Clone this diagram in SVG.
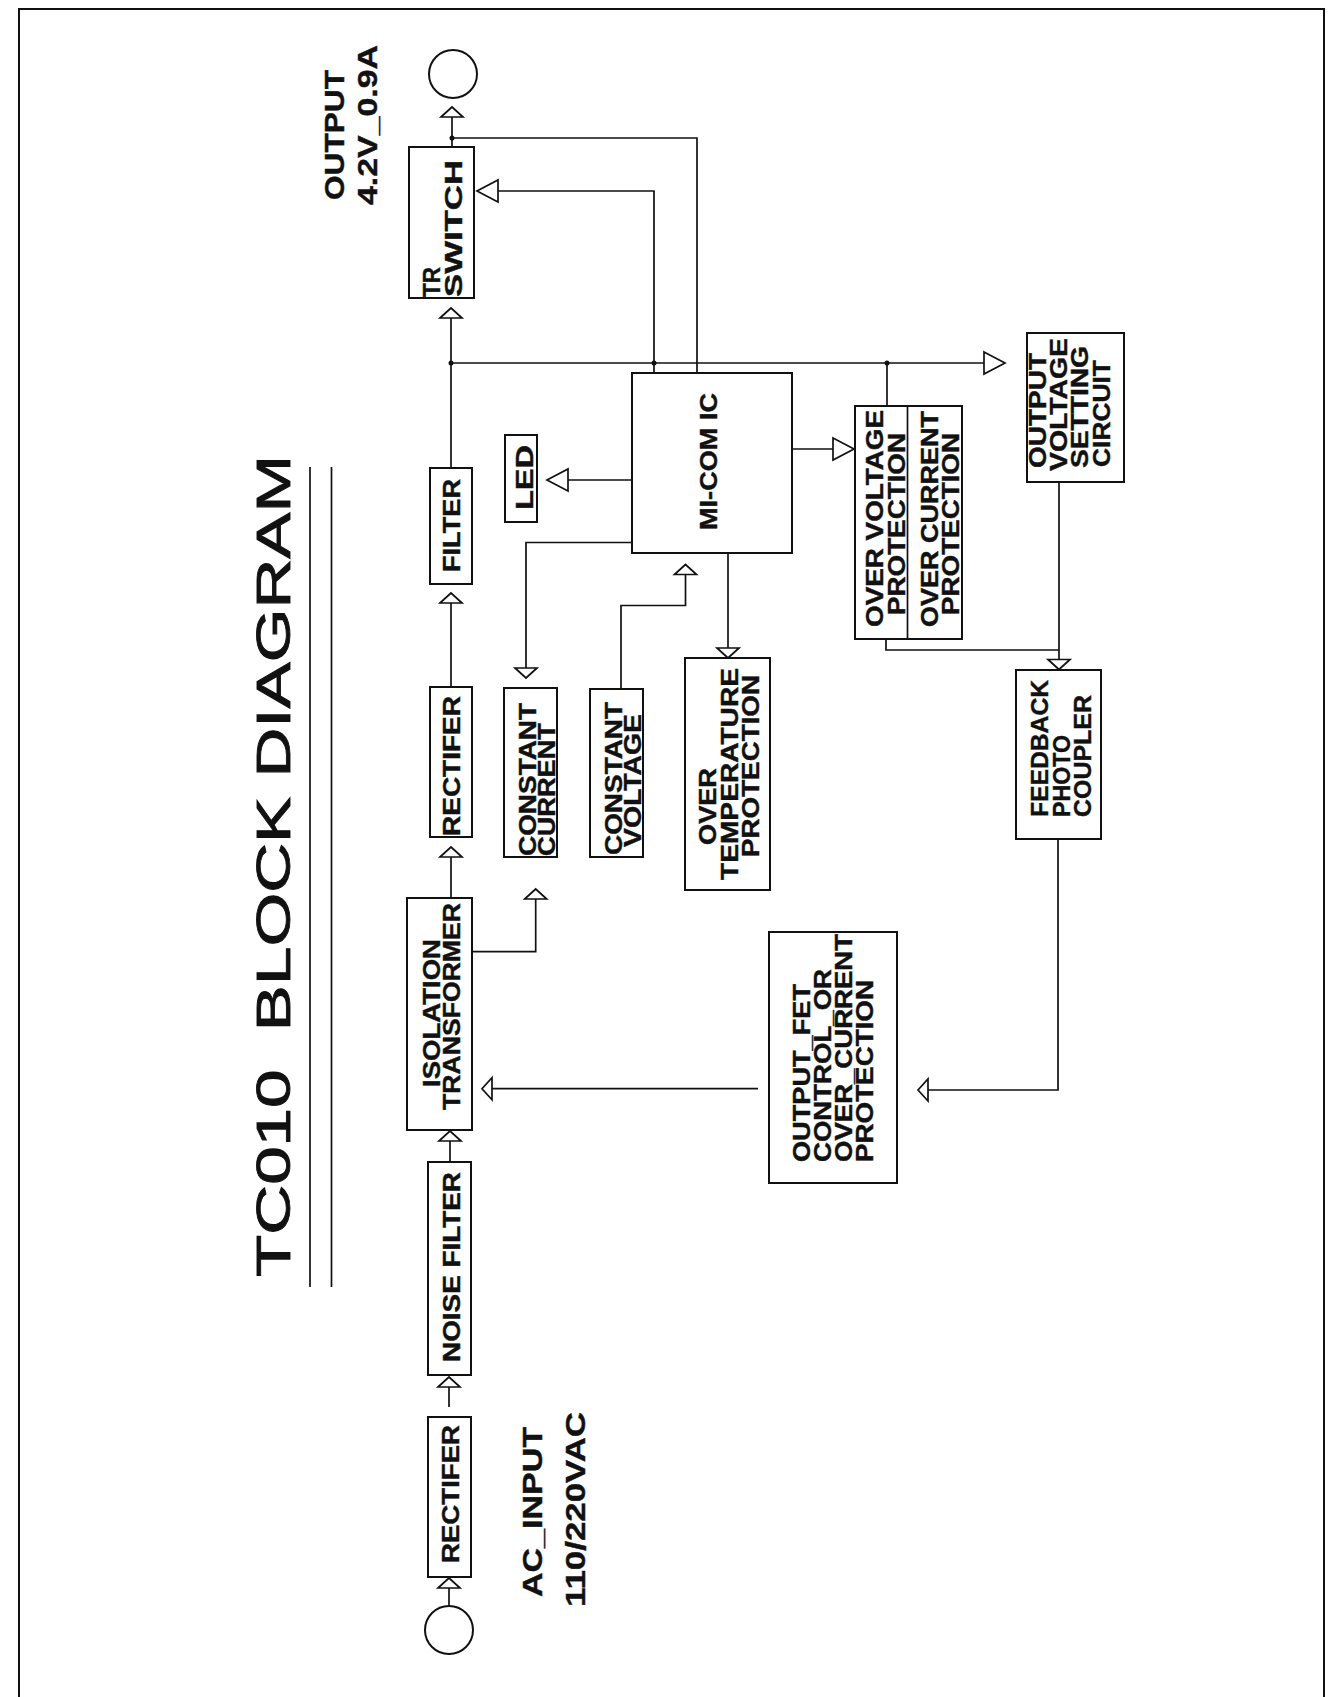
<svg xmlns="http://www.w3.org/2000/svg" width="1338" height="1697" viewBox="0 0 1338 1697">
<style>
.bx{fill:#fff;stroke:#111;stroke-width:2}
.ln{fill:none;stroke:#111;stroke-width:1.7}
.t{font-family:"Liberation Sans",Arial,sans-serif;font-weight:bold;font-size:23px;fill:#111;stroke:#111;stroke-width:0.4}
.ti{font-family:"Liberation Sans",Arial,sans-serif;font-size:48px;fill:#111;stroke:#111;stroke-width:0.9;white-space:pre}
.lb{font-family:"Liberation Sans",Arial,sans-serif;font-weight:bold;font-size:28px;fill:#111;stroke:#111;stroke-width:0.4}
.dot{fill:#111}
</style>
<defs>
<marker id="arS" viewBox="0 0 12 24" markerWidth="12" markerHeight="24" refX="10" refY="11" orient="auto" markerUnits="userSpaceOnUse" overflow="visible"><path d="M0,0 L10,11 L0,22 Z" fill="#fff" stroke="#111" stroke-width="1.7"/></marker>
<marker id="arL" viewBox="0 0 23 24" markerWidth="23" markerHeight="24" refX="21" refY="11" orient="auto" markerUnits="userSpaceOnUse" overflow="visible"><path d="M0,0 L21,11 L0,22 Z" fill="#fff" stroke="#111" stroke-width="1.7"/></marker>
</defs>
<rect x="0" y="0" width="1338" height="1697" fill="#fff"/>
<rect x="19" y="9" width="1305" height="1720" fill="none" stroke="#111" stroke-width="2"/>

<g id="title">
<text class="ti" transform="translate(290,1277) rotate(-90)" textLength="822" lengthAdjust="spacingAndGlyphs">TC010  BLOCK DIAGRAM</text>
<line x1="310" y1="467" x2="310" y2="1287" class="ln" stroke-width="2"/>
<line x1="331.5" y1="467" x2="331.5" y2="1287" class="ln" stroke-width="2"/>
</g>

<g id="labels">
<text class="lb" transform="translate(344,200) rotate(-90)" textLength="130" lengthAdjust="spacingAndGlyphs">OUTPUT</text>
<text class="lb" transform="translate(377,205) rotate(-90)" textLength="160" lengthAdjust="spacingAndGlyphs">4.2V_0.9A</text>
<text class="lb" transform="translate(542,1597) rotate(-90)" textLength="170" lengthAdjust="spacingAndGlyphs">AC_INPUT</text>
<text class="lb" transform="translate(585,1607) rotate(-90)" textLength="195" lengthAdjust="spacingAndGlyphs">110/220VAC</text>
</g>

<g id="connectors">
<path class="ln" d="M449,1606 L449,1578" marker-end="url(#arS)"/>
<path class="ln" d="M449,1407 L449,1377" marker-end="url(#arS)"/>
<path class="ln" d="M450,1162 L450,1131" marker-end="url(#arS)"/>
<path class="ln" d="M451,898 L451,847" marker-end="url(#arS)"/>
<path class="ln" d="M451,687 L451,593" marker-end="url(#arS)"/>
<path class="ln" d="M451,468 L451,308" marker-end="url(#arS)"/>
<path class="ln" d="M452,147 L452,107" marker-end="url(#arS)"/>
<path class="ln" d="M452,138 L697,138 L697,373"/>
<path class="ln" d="M654,373 L654,191 L477,191" marker-end="url(#arL)"/>
<path class="ln" d="M451,363 L1005,363" marker-end="url(#arL)"/>
<path class="ln" d="M887,363 L887,406"/>
<path class="ln" d="M632,480 L547,480" marker-end="url(#arL)"/>
<path class="ln" d="M632,542.5 L526,542.5 L526,678" marker-end="url(#arS)"/>
<path class="ln" d="M621,689 L621,605.5 L685.5,605.5 L685.5,564.5" marker-end="url(#arS)"/>
<path class="ln" d="M728,553 L728,658" marker-end="url(#arS)"/>
<path class="ln" d="M792,449 L854,449" marker-end="url(#arL)"/>
<path class="ln" d="M472,951.7 L535.7,951.7 L535.7,889" marker-end="url(#arS)"/>
<path class="ln" d="M758,1088.7 L482,1088.7" marker-end="url(#arS)"/>
<path class="ln" d="M886,639 L886,650 L1059,650"/>
<path class="ln" d="M1059,482 L1059,669.5" marker-end="url(#arS)"/>
<path class="ln" d="M1058,839 L1058,1090 L918,1090" marker-end="url(#arS)"/>
<circle class="dot" cx="451" cy="363" r="2.5"/>
<circle class="dot" cx="887" cy="363" r="2.5"/>
<circle class="dot" cx="452" cy="138" r="2.5"/>
<circle class="dot" cx="654" cy="363" r="2.5"/>
</g>

<g id="ac-input"><circle class="bx" cx="449" cy="1630" r="24"/></g>
<g id="output"><circle class="bx" cx="453" cy="74" r="24"/></g>

<g id="rectifier-in">
<rect class="bx" x="428" y="1417" width="43" height="160"/>
<text class="t" transform="translate(459,1563) rotate(-90)" textLength="138" lengthAdjust="spacingAndGlyphs">RECTIFER</text>
</g>
<g id="noise-filter">
<rect class="bx" x="428" y="1162" width="43" height="213"/>
<text class="t" transform="translate(460,1362) rotate(-90)" textLength="190" lengthAdjust="spacingAndGlyphs">NOISE FILTER</text>
</g>
<g id="isolation-transformer">
<rect class="bx" x="407" y="898" width="65" height="232"/>
<text class="t" transform="translate(440,1087) rotate(-90)" textLength="148" lengthAdjust="spacingAndGlyphs">ISOLATION</text>
<text class="t" transform="translate(460,1110) rotate(-90)" textLength="207" lengthAdjust="spacingAndGlyphs">TRANSFORMER</text>
</g>
<g id="rectifier-out">
<rect class="bx" x="430" y="687" width="42" height="150"/>
<text class="t" transform="translate(460,836) rotate(-90)" textLength="140" lengthAdjust="spacingAndGlyphs">RECTIFER</text>
</g>
<g id="filter">
<rect class="bx" x="430" y="468" width="42" height="116"/>
<text class="t" transform="translate(460,572) rotate(-90)" textLength="93" lengthAdjust="spacingAndGlyphs">FILTER</text>
</g>
<g id="tr-switch">
<rect class="bx" x="409" y="147" width="65" height="151"/>
<text class="t" transform="translate(440,297) rotate(-90)" textLength="30" lengthAdjust="spacingAndGlyphs">TR</text>
<text class="t" transform="translate(462,297) rotate(-90)" textLength="137" lengthAdjust="spacingAndGlyphs">SWITCH</text>
</g>
<g id="led">
<rect class="bx" x="505" y="435" width="32" height="87"/>
<text class="t" transform="translate(533,510) rotate(-90)" textLength="65" lengthAdjust="spacingAndGlyphs">LED</text>
</g>
<g id="constant-current">
<rect class="bx" x="504" y="688" width="53" height="169"/>
<text class="t" transform="translate(536,856) rotate(-90)" textLength="153" lengthAdjust="spacingAndGlyphs">CONSTANT</text>
<text class="t" transform="translate(555,856) rotate(-90)" textLength="133" lengthAdjust="spacingAndGlyphs">CURRENT</text>
</g>
<g id="constant-voltage">
<rect class="bx" x="590" y="689" width="53" height="168"/>
<text class="t" transform="translate(622,855) rotate(-90)" textLength="153" lengthAdjust="spacingAndGlyphs">CONSTANT</text>
<text class="t" transform="translate(641,847) rotate(-90)" textLength="133" lengthAdjust="spacingAndGlyphs">VOLTAGE</text>
</g>
<g id="micom-ic">
<rect class="bx" x="632" y="373" width="160" height="180"/>
<text class="t" transform="translate(717,530) rotate(-90)" textLength="137" lengthAdjust="spacingAndGlyphs">MI-COM IC</text>
</g>
<g id="over-temperature">
<rect class="bx" x="685" y="658" width="85" height="232"/>
<text class="t" transform="translate(716,845) rotate(-90)" textLength="77" lengthAdjust="spacingAndGlyphs">OVER</text>
<text class="t" transform="translate(738,880) rotate(-90)" textLength="212" lengthAdjust="spacingAndGlyphs">TEMPERATURE</text>
<text class="t" transform="translate(759,857) rotate(-90)" textLength="182" lengthAdjust="spacingAndGlyphs">PROTECTION</text>
</g>
<g id="ovp-ocp">
<rect class="bx" x="855" y="406" width="107" height="233"/>
<line class="ln" x1="907.5" y1="406" x2="907.5" y2="639" stroke-width="2"/>
<text class="t" transform="translate(883,627) rotate(-90)" textLength="217" lengthAdjust="spacingAndGlyphs">OVER VOLTAGE</text>
<text class="t" transform="translate(905,615) rotate(-90)" textLength="182" lengthAdjust="spacingAndGlyphs">PROTECTION</text>
<text class="t" transform="translate(938,627) rotate(-90)" textLength="216" lengthAdjust="spacingAndGlyphs">OVER CURRENT</text>
<text class="t" transform="translate(959,615) rotate(-90)" textLength="182" lengthAdjust="spacingAndGlyphs">PROTECTION</text>
</g>
<g id="output-voltage-setting">
<rect class="bx" x="1027" y="333" width="97" height="149"/>
<text class="t" transform="translate(1046,468) rotate(-90)" textLength="115" lengthAdjust="spacingAndGlyphs">OUTPUT</text>
<text class="t" transform="translate(1067,471) rotate(-90)" textLength="133" lengthAdjust="spacingAndGlyphs">VOLTAGE</text>
<text class="t" transform="translate(1088,468) rotate(-90)" textLength="122" lengthAdjust="spacingAndGlyphs">SETTING</text>
<text class="t" transform="translate(1110,467) rotate(-90)" textLength="107" lengthAdjust="spacingAndGlyphs">CIRCUIT</text>
</g>
<g id="feedback-photocoupler">
<rect class="bx" x="1016" y="670" width="85" height="169"/>
<text class="t" transform="translate(1048,817) rotate(-90)" textLength="137" lengthAdjust="spacingAndGlyphs">FEEDBACK</text>
<text class="t" transform="translate(1070,817) rotate(-90)" textLength="82" lengthAdjust="spacingAndGlyphs">PHOTO</text>
<text class="t" transform="translate(1091,817) rotate(-90)" textLength="122" lengthAdjust="spacingAndGlyphs">COUPLER</text>
</g>
<g id="output-fet-control">
<rect class="bx" x="769" y="932" width="128" height="251"/>
<text class="t" transform="translate(810,1162) rotate(-90)" textLength="178" lengthAdjust="spacingAndGlyphs">OUTPUT_FET</text>
<text class="t" transform="translate(831,1162) rotate(-90)" textLength="193" lengthAdjust="spacingAndGlyphs">CONTROL_OR</text>
<text class="t" transform="translate(852,1162) rotate(-90)" textLength="228" lengthAdjust="spacingAndGlyphs">OVER_CURRENT</text>
<text class="t" transform="translate(873,1162) rotate(-90)" textLength="182" lengthAdjust="spacingAndGlyphs">PROTECTION</text>
</g>
</svg>
